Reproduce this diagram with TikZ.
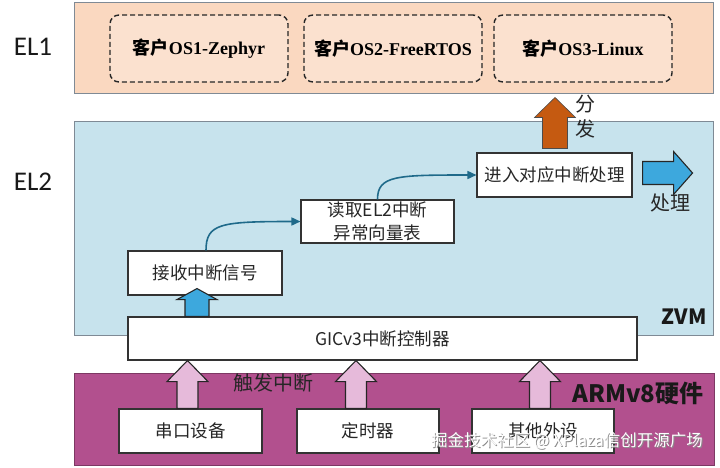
\documentclass[tikz,border=0pt]{standalone}
\usepackage{fontspec}
\setmainfont{Carlito}
\newfontfamily\cjk{Noto Sans CJK SC}
\newfontfamily\tms{Liberation Serif}
\usetikzlibrary{arrows.meta,calc}
\definecolor{elone}{HTML}{FAD8C0}
\definecolor{elonein}{HTML}{FBE1CF}
\definecolor{eltwo}{HTML}{C7E3ED}
\definecolor{hwfill}{HTML}{B2508E}
\definecolor{pinkar}{HTML}{E6BADA}
\definecolor{bluear}{HTML}{3DA8DD}
\definecolor{orangear}{HTML}{C55A11}
\definecolor{flowc}{HTML}{1F6A8A}
\definecolor{bandline}{HTML}{7F8A95}
\newcommand{\blkup}[6]{\draw[#1] let \p1=(#2), \p2=(#3) in
  (\x1-#4,\y1) -- (\x1-#4,\y2-#6) -- (\x1-#5,\y2-#6) -- (\x1,\y2) --
  (\x1+#5,\y2-#6) -- (\x1+#4,\y2-#6) -- (\x1+#4,\y1) -- cycle;}
\newcommand{\blkright}[6]{\draw[#1] let \p1=(#2), \p2=(#3) in
  (\x1,\y1-#4) -- (\x2-#6,\y1-#4) -- (\x2-#6,\y1-#5) -- (\x2,\y1) --
  (\x2-#6,\y1+#5) -- (\x2-#6,\y1+#4) -- (\x1,\y1+#4) -- cycle;}
\tikzset{
  band/.style={draw=bandline, line width=0.9pt, inner sep=0pt},
  osbox/.style={draw=black!85, dashed, dash pattern=on 5pt off 3pt, line width=1.4pt,
    rounded corners=9pt, fill=elonein, minimum width=178pt, minimum height=67pt,
    font=\fontsize{18}{20}\selectfont\bfseries},
  stepbox/.style={draw=black!80, line width=1.1pt, fill=white, inner sep=0pt,
    font=\cjk\fontsize{17.5}{22.5}\selectfont, text=black!85, align=center},
  lbl/.style={font=\cjk\fontsize{20}{25}\selectfont, text=black!85, align=center},
  ellbl/.style={font=\fontsize{27}{30}\selectfont, text=black!90},
  pinkblk/.style={fill=pinkar, draw=black!85, line width=1.1pt},
  blueblk/.style={fill=bluear, draw=black!85, line width=1.1pt},
  orangeblk/.style={fill=orangear, draw=black!70, line width=0.6pt},
  flow/.style={draw=flowc, line width=1.6pt, -{Triangle[length=9pt,width=8pt]}},
  wmark/.style={font=\cjk\fontsize{16.5}{20}\selectfont},
}
\begin{document}
\begin{tikzpicture}[x=1pt,y=-1pt]
\useasboundingbox (0,0) rectangle (720,467);
% bands
\node[band, fill=elone, minimum width=639pt, minimum height=91pt] (el1band) at (394,47.5) {};
\node[band, fill=eltwo, minimum width=639pt, minimum height=214pt] (el2band) at (394,228) {};
\node[band, fill=hwfill, draw=hwfill!70!black, minimum width=640pt, minimum height=92pt] (hwband) at (394,419) {};
% level labels
\node[ellbl] (el1) at (33,47) {EL1};
\node[ellbl] (el2) at (33,182) {EL2};
% guest OS boxes
\node[osbox] (os1) at (199,48.5) {{\cjk 客户}{\tms OS1-Zephyr}};
\node[osbox] (os2) at (393,48.5) {{\cjk 客户}{\tms OS2-FreeRTOS}};
\node[osbox] (os3) at (583,48.5) {{\cjk 客户}{\tms OS3-Linux}};
% EL2 boxes
\node[stepbox, minimum width=154pt, minimum height=44pt] (recv) at (205,273) {接收中断信号};
\node[stepbox, minimum width=153pt, minimum height=43pt] (read) at (377.5,221.5) {读取EL2中断\\异常向量表};
\node[stepbox, minimum width=155pt, minimum height=44pt] (enter) at (554.5,175) {进入对应中断处理};
\node[stepbox, minimum width=509pt, minimum height=43pt] (gic) at (382.5,338.5) {GICv3中断控制器};
% devices
\node[stepbox, minimum width=143pt, minimum height=44pt] (dev1) at (190.5,431) {串口设备};
\node[stepbox, minimum width=142pt, minimum height=44pt] (dev2) at (368,431) {定时器};
\node[stepbox, minimum width=142pt, minimum height=44pt] (dev3) at (543,431) {其他外设};
% flow curves
\draw[flow] ([xshift=1pt]recv.north) .. controls +(0,-27) and +(-80,0) .. (read.west);
\draw[flow] (read.north) .. controls +(0,-24) and +(-80,0) .. (enter.west);
% block arrows
\blkup{pinkblk}{$(dev1.north)+(-3,0)$}{$(dev1.north |- gic.south)+(-3,0)$}{10.5pt}{20.5pt}{21pt}
\blkup{pinkblk}{$(dev2.north)+(-12,0)$}{$(dev2.north |- gic.south)+(-12,0)$}{10.5pt}{20.5pt}{21pt}
\blkup{pinkblk}{$(dev3.north)+(-3,0)$}{$(dev3.north |- gic.south)+(-3,0)$}{10.5pt}{20.5pt}{21pt}
\blkup{blueblk}{$(gic.north)+(-185.5,0)$}{$(recv.south -| gic.north)+(-185.5,-7)$}{12pt}{20pt}{11pt}
\blkup{orangeblk}{$(enter.north)+(0.5,-4)$}{$(el1band.south -| enter.north)+(0.5,4)$}{12.5pt}{20.5pt}{20pt}
\blkright{blueblk}{$(enter.east)+(10,-2)$}{$(enter.east)+(60,-2)$}{11.5pt}{21.5pt}{19pt}
% labels
\node[lbl] (fenfa) at (585,117) {分\\发};
\node[lbl] (chuli) at (670,203) {处理};
\node[lbl] (chufa) at (273,383) {触发中断};
\node[font=\cjk\fontsize{21}{24}\selectfont\bfseries, text=black!90] (zvm) at (684,317) {ZVM};
\node[font=\cjk\fontsize{24}{28}\selectfont\bfseries, text=black!90] (armhw) at (638,393) {ARMv8硬件};
% watermark
\node[wmark, text=black!45] (wmshadow) at (568,442) {掘金技术社区 @ XPlaza信创开源广场};
\node[wmark, text=white] (wm) at (567,441) {掘金技术社区 @ XPlaza信创开源广场};
\end{tikzpicture}
\end{document}
